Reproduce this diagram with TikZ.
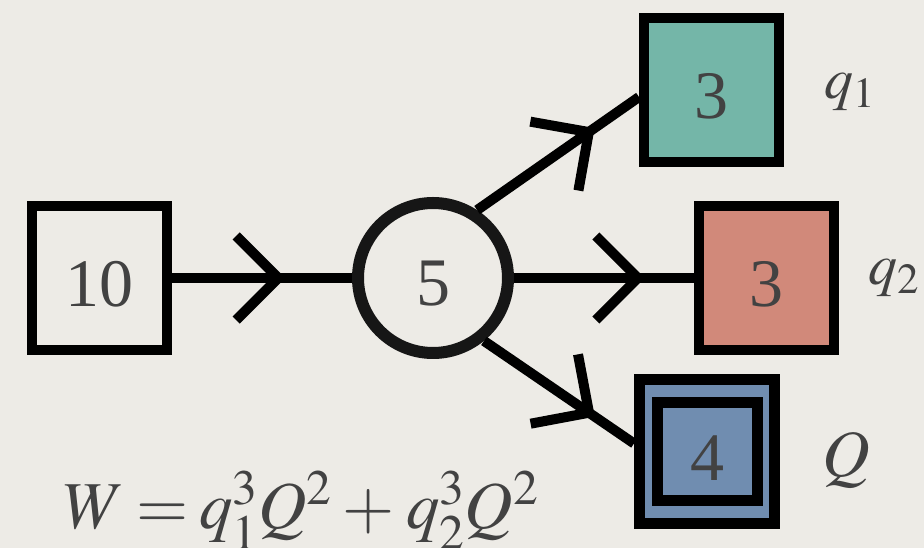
\documentclass[tikz,border=0pt]{standalone}
\usepackage{mathptmx}
\usepackage{fontspec}
\setmainfont{Liberation Serif}
\usetikzlibrary{decorations.markings}
\definecolor{bgpaper}{RGB}{237,235,230}
\definecolor{inkgray}{RGB}{66,66,66}
\definecolor{tealfill}{RGB}{116,182,168}
\definecolor{salmonfill}{RGB}{209,137,122}
\definecolor{bluefill}{RGB}{112,141,176}
\definecolor{ringblack}{RGB}{22,22,22}
\begin{document}
\begin{tikzpicture}[x=1pt,y=1pt,
  box/.style={draw=black, line width=10pt, minimum width=135pt, minimum height=144pt,
    inner sep=0pt, text height=58pt, text depth=0pt, text=inkgray,
    font=\fontsize{68}{80}\selectfont},
  ring/.style={circle, draw=ringblack, line width=12pt, minimum size=150pt, inner sep=0pt,
    text height=56pt, text depth=0pt, text=inkgray, font=\fontsize{68}{80}\selectfont},
  lab/.style={inner sep=0pt, text=inkgray, font=\fontsize{58}{70}\selectfont},
  conn/.style={draw=black, line width=10pt},
  chev/.style={postaction={decorate}, decoration={markings, mark=at position #1 with
    {\draw[black, line width=10pt, line cap=butt, line join=miter] (-42pt,42pt) -- (0pt,0pt) -- (-42pt,-42pt);}}}
]
\fill[bgpaper] (0,0) rectangle (924,548);
\useasboundingbox (0,0) rectangle (924,548);

\node[box] (n10) at (99.5,270) {10};
\node[ring] (n5) at (433,270) {5};
\node[box, fill=tealfill] (q1) at (711.5,458) {3};
\node[box, fill=salmonfill] (q2) at (766,270) {3};
\node[box, fill=bluefill, line width=11pt] (Q) at (707,96.5) {};
\node[box, fill=bluefill, line width=11pt, minimum width=100pt, minimum height=98pt] (Qin) at (Q.center) {4};

\draw[conn, chev=0.59] (n10.east) -- (n5.west);
\draw[conn, chev=0.69] (n5.east) -- (q2.west);
\draw[conn, chev=0.69] (n5.57) -- ([yshift=-7pt]q1.west);
\draw[conn, chev=0.70] (n5.-51) -- ([yshift=8pt]Q.west);

\node[lab] (lq1) at (850,456) {$q_1$};
\node[lab] (lq2) at (894,270) {$q_2$};
\node[lab, font=\fontsize{66}{76}\selectfont] (lQ) at (846,88) {$Q$};
\node[lab, anchor=base west, font=\fontsize{67}{78}\selectfont] (formula) at (64,19)
  {\thickmuskip=3mu \medmuskip=3mu $W = q_1^3Q^2 + q_2^3Q^2$};
\end{tikzpicture}
\end{document}
